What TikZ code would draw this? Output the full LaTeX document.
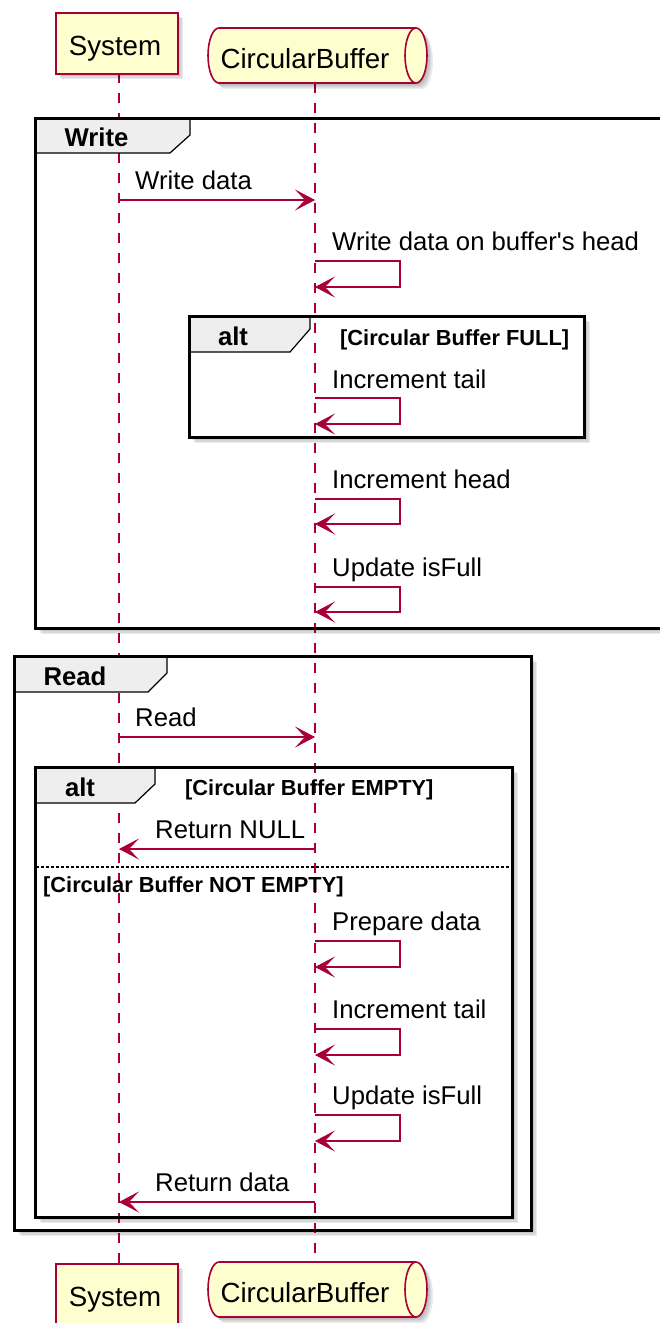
\documentclass[tikz,border=0pt]{standalone}
\usepackage{fontspec}
\setmainfont{Liberation Sans}
\usetikzlibrary{arrows.meta}
\definecolor{pumlred}{HTML}{A80036}
\definecolor{pumlfill}{HTML}{FEFECE}
\definecolor{tabgray}{HTML}{EEEEEE}
\newcommand{\dropshade}[4]{%
  \foreach \d in {1.5,3,4.5,6}{\fill[black,opacity=0.08] (#1+\d,#2+\d) rectangle (#3+\d,#4+\d);}}
\newcommand{\cylpath}[1]{(219,#1) -- (416,#1) arc[start angle=90,end angle=-90,x radius=11pt,y radius=27.5pt] -- (219,#1+55) arc[start angle=270,end angle=90,x radius=11pt,y radius=27.5pt] -- cycle}
\tikzset{
  lifeline/.style={pumlred, line width=1.5pt, dash pattern=on 10pt off 10pt},
  msg/.style={pumlred, line width=1.4pt, -{Stealth[length=20pt,width=21pt,inset=10pt,line width=0.8pt]}},
  msgtext/.style={anchor=base west, inner sep=0pt, font=\fontsize{25.7}{30}\selectfont},
  parttext/.style={anchor=base, inner sep=0pt, font=\fontsize{27.7}{33}\selectfont},
  frametitle/.style={anchor=base, inner sep=0pt, font=\fontsize{25.7}{30}\selectfont\bfseries},
  guardtext/.style={anchor=base west, inner sep=0pt, font=\fontsize{21.8}{26}\selectfont\bfseries},
  frameline/.style={black, line width=3pt},
  tabshape/.style={fill=tabgray, draw=black, line width=1.2pt},
  partbox/.style={fill=pumlfill, draw=pumlred, line width=1.6pt},
  sepline/.style={black, line width=1.2pt, dash pattern=on 2.5pt off 2.5pt},
}
\begin{document}
\begin{tikzpicture}[x=1pt,y=-1pt]
\useasboundingbox (0,0) rectangle (659,1323);
\fill[white] (0,0) rectangle (659,1323);

% frame shadows and fills
\dropshade{35.5}{118}{680}{628}
\fill[white] (35.5,118) rectangle (680,628);
\dropshade{189}{316}{584}{437}
\fill[white] (189,316) rectangle (584,437);
\dropshade{14.5}{656}{531}{1230}
\fill[white] (14.5,656) rectangle (531,1230);
\dropshade{35}{767}{512}{1217}
\fill[white] (35,767) rectangle (512,1217);

% lifelines
\coordinate (sysL0) at (119,73);
\coordinate (sysL1) at (119,1263);
\coordinate (cbL0) at (315,83);
\coordinate (cbL1) at (315,1262);
\draw[lifeline] (sysL0) -- (sysL1);
\draw[lifeline] (cbL0) -- (cbL1);

% Write frame
\draw[tabshape] (35.5,118) -- (190,118) -- (190,135) -- (170,153) -- (35.5,153) -- cycle;
\draw[frameline] (35.5,118) rectangle (680,628);
\node[frametitle] (tWrite) at (96.5,146) {Write};

% alt 1
\draw[tabshape] (189,316) -- (310,316) -- (310,329) -- (290,352) -- (189,352) -- cycle;
\draw[frameline] (189,316) rectangle (584,437);
\node[frametitle] (tAlt1) at (233,345) {alt};
\node[guardtext] (gFull) at (340,345) {[Circular Buffer FULL]};

% Read frame
\draw[tabshape] (14.5,656) -- (167,656) -- (167,673) -- (148,692) -- (14.5,692) -- cycle;
\draw[frameline] (14.5,656) rectangle (531,1230);
\node[frametitle] (tRead) at (75,685) {Read};

% alt 2
\draw[tabshape] (35,767) -- (155,767) -- (155,784) -- (135,803) -- (35,803) -- cycle;
\draw[frameline] (35,767) rectangle (512,1217);
\node[frametitle] (tAlt2) at (80,796) {alt};
\node[guardtext] (gEmpty) at (185,795) {[Circular Buffer EMPTY]};
\coordinate (sepA) at (36,867);
\coordinate (sepB) at (511,867);
\draw[sepline] (sepA) -- (sepB);
\node[guardtext] (gNotEmpty) at (43,892) {[Circular Buffer NOT EMPTY]};

% participants top
\dropshade{55}{12}{177}{73}
\node[partbox, minimum width=122pt, minimum height=61pt, inner sep=0pt, anchor=north west] (sysTop) at (55,12) {};
\node[parttext] (sysTopLbl) at (115,55) {System};
\foreach \d in {1.5,3,4.5,6}{\fill[black,opacity=0.08,shift={(\d,\d)}] \cylpath{28};}
\draw[partbox] \cylpath{28};
\draw[pumlred, line width=1.6pt] (416,28) arc[start angle=90,end angle=270,x radius=11pt,y radius=27.5pt];
\node[parttext] (cbTopLbl) at (305,68) {CircularBuffer};

% participants bottom
\dropshade{55}{1263}{177}{1324}
\node[partbox, minimum width=122pt, minimum height=61pt, inner sep=0pt, anchor=north west] (sysBot) at (55,1263) {};
\node[parttext] (sysBotLbl) at (115,1306) {System};
\foreach \d in {1.5,3,4.5,6}{\fill[black,opacity=0.08,shift={(\d,\d)}] \cylpath{1262};}
\draw[partbox] \cylpath{1262};
\draw[pumlred, line width=1.6pt] (416,1262) arc[start angle=90,end angle=270,x radius=11pt,y radius=27.5pt];
\node[parttext] (cbBotLbl) at (305,1302) {CircularBuffer};

% messages
\coordinate (m1s) at (119,200); \coordinate (m1c) at (315,200);
\draw[msg] (m1s) -- (m1c);
\node[msgtext] (m1t) at (135,189) {Write data};

\coordinate (m2a) at (315,261); \coordinate (m2b) at (400,261);
\coordinate (m2c) at (400,287); \coordinate (m2d) at (315,287);
\draw[msg] (m2a) -- (m2b) -- (m2c) -- (m2d);
\node[msgtext] (m2t) at (332,250) {Write data on buffer\textquotesingle s head};

\coordinate (m3a) at (315,398); \coordinate (m3b) at (400,398);
\coordinate (m3c) at (400,424); \coordinate (m3d) at (315,424);
\draw[msg] (m3a) -- (m3b) -- (m3c) -- (m3d);
\node[msgtext] (m3t) at (332,388) {Increment tail};

\coordinate (m4a) at (315,499); \coordinate (m4b) at (400,499);
\coordinate (m4c) at (400,524); \coordinate (m4d) at (315,524);
\draw[msg] (m4a) -- (m4b) -- (m4c) -- (m4d);
\node[msgtext] (m4t) at (332,488) {Increment head};

\coordinate (m5a) at (315,587); \coordinate (m5b) at (400,587);
\coordinate (m5c) at (400,612); \coordinate (m5d) at (315,612);
\draw[msg] (m5a) -- (m5b) -- (m5c) -- (m5d);
\node[msgtext] (m5t) at (332,576) {Update isFull};

\coordinate (m6s) at (119,737); \coordinate (m6c) at (315,737);
\draw[msg] (m6s) -- (m6c);
\node[msgtext] (m6t) at (135,726) {Read};

\coordinate (m7c) at (315,849); \coordinate (m7s) at (119,849);
\draw[msg] (m7c) -- (m7s);
\node[msgtext] (m7t) at (155,838) {Return NULL};

\coordinate (m8a) at (315,941); \coordinate (m8b) at (400,941);
\coordinate (m8c) at (400,967); \coordinate (m8d) at (315,967);
\draw[msg] (m8a) -- (m8b) -- (m8c) -- (m8d);
\node[msgtext] (m8t) at (332,930) {Prepare data};

\coordinate (m9a) at (315,1029); \coordinate (m9b) at (400,1029);
\coordinate (m9c) at (400,1055); \coordinate (m9d) at (315,1055);
\draw[msg] (m9a) -- (m9b) -- (m9c) -- (m9d);
\node[msgtext] (m9t) at (332,1018) {Increment tail};

\coordinate (m10a) at (315,1115); \coordinate (m10b) at (400,1115);
\coordinate (m10c) at (400,1141); \coordinate (m10d) at (315,1141);
\draw[msg] (m10a) -- (m10b) -- (m10c) -- (m10d);
\node[msgtext] (m10t) at (332,1104) {Update isFull};

\coordinate (m11c) at (315,1202); \coordinate (m11s) at (119,1202);
\draw[msg] (m11c) -- (m11s);
\node[msgtext] (m11t) at (155,1191) {Return data};
\end{tikzpicture}
\end{document}
